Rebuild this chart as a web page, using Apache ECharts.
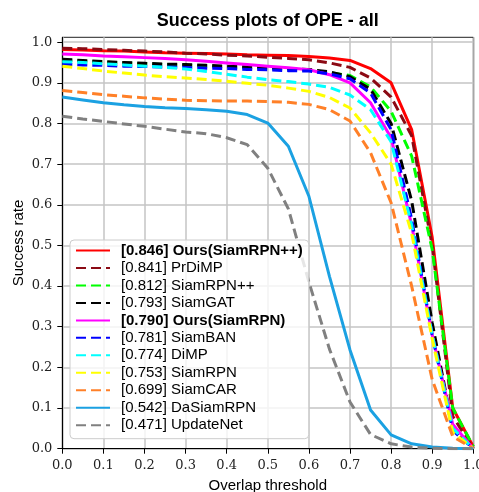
<!DOCTYPE html>
<html><head><meta charset="utf-8">
<script src="https://cdn.jsdelivr.net/npm/echarts@6/dist/echarts.min.js"></script>
<style>html,body{margin:0;padding:0;background:#fff}#c{width:479px;height:492px}</style>
</head><body><div id="c"></div>
<script>
// Overlap thresholds (x)
const thresholds = [0.00,0.05,0.10,0.15,0.20,0.25,0.30,0.35,0.40,0.45,0.50,0.55,0.60,0.65,0.70,0.75,0.80,0.85,0.90,0.95,1.00];

// Success rates per tracker
const oursSiamRPNpp = [0.982,0.981,0.979,0.978,0.976,0.974,0.973,0.972,0.971,0.969,0.968,0.967,0.965,0.961,0.955,0.935,0.900,0.785,0.520,0.100,0.005];
const prDiMP        = [0.985,0.984,0.982,0.980,0.978,0.976,0.973,0.971,0.968,0.966,0.963,0.960,0.957,0.949,0.938,0.912,0.865,0.770,0.500,0.080,0.000];
const siamRPNpp     = [0.955,0.953,0.951,0.949,0.947,0.945,0.943,0.941,0.939,0.937,0.935,0.933,0.931,0.925,0.918,0.890,0.830,0.720,0.490,0.100,0.005];
const siamGAT       = [0.958,0.955,0.952,0.950,0.948,0.946,0.945,0.943,0.941,0.939,0.937,0.935,0.933,0.927,0.915,0.884,0.800,0.610,0.310,0.050,0.000];
const oursSiamRPN   = [0.971,0.969,0.966,0.964,0.962,0.960,0.957,0.953,0.949,0.945,0.941,0.937,0.932,0.920,0.900,0.851,0.765,0.550,0.280,0.060,0.000];
const siamBAN       = [0.946,0.944,0.943,0.941,0.940,0.939,0.938,0.936,0.935,0.933,0.932,0.930,0.929,0.922,0.910,0.875,0.785,0.565,0.280,0.045,0.000];
const diMP          = [0.952,0.950,0.947,0.944,0.941,0.938,0.934,0.928,0.921,0.914,0.908,0.903,0.897,0.889,0.870,0.834,0.755,0.550,0.280,0.050,0.000];
const siamRPN       = [0.941,0.935,0.929,0.924,0.919,0.915,0.912,0.908,0.904,0.899,0.894,0.887,0.879,0.864,0.838,0.777,0.700,0.530,0.270,0.040,0.000];
const siamCAR       = [0.881,0.876,0.871,0.867,0.863,0.860,0.857,0.856,0.855,0.855,0.854,0.852,0.847,0.834,0.806,0.728,0.605,0.400,0.170,0.030,0.000];
const daSiamRPN     = [0.865,0.858,0.851,0.846,0.842,0.839,0.837,0.834,0.830,0.822,0.801,0.744,0.621,0.424,0.243,0.095,0.034,0.012,0.004,0.001,0.000];
const updateNet     = [0.818,0.811,0.805,0.799,0.793,0.786,0.779,0.775,0.765,0.748,0.690,0.590,0.410,0.245,0.115,0.035,0.012,0.004,0.001,0.000,0.000];

// Legend labels
const legendNames = [
  '[0.846] Ours(SiamRPN++)','[0.841] PrDiMP','[0.812] SiamRPN++','[0.793] SiamGAT',
  '[0.790] Ours(SiamRPN)','[0.781] SiamBAN','[0.774] DiMP','[0.753] SiamRPN',
  '[0.699] SiamCAR','[0.542] DaSiamRPN','[0.471] UpdateNet'
];
const boldNames = ['[0.846] Ours(SiamRPN++)','[0.790] Ours(SiamRPN)'];

// Tick labels
const xTickLabels = ['0.0','0.1','0.2','0.3','0.4','0.5','0.6','0.7','0.8','0.9','1.0'];
const yTickLabels = ['0.0','0.1','0.2','0.3','0.4','0.5','0.6','0.7','0.8','0.9','1.0'];
const tickValues  = [0,0.1,0.2,0.3,0.4,0.5,0.6,0.7,0.8,0.9,1.0];

const seriesValues = [oursSiamRPNpp,prDiMP,siamRPNpp,siamGAT,oursSiamRPN,siamBAN,diMP,siamRPN,siamCAR,daSiamRPN,updateNet];
const colors = ['#ff0000','#8b0a14','#00ff00','#000000','#ff00ff','#0000ff','#00ffff','#ffff00','#ff8028','#1ba1e2','#808080'];
const dashed = [false,true,true,true,false,true,true,true,true,false,true];

const chart = echarts.init(document.getElementById('c'), null, {renderer:'canvas'});
const sansFont = 'Liberation Sans';
const serifFont = 'DejaVu Serif';

const series = legendNames.map((n, i) => ({
  name: n,
  type: 'line',
  data: thresholds.map((t, j) => [t, seriesValues[i][j]]),
  symbol: 'none',
  lineStyle: { color: colors[i], width: 3, type: dashed[i] ? [10, 5] : 'solid' },
  itemStyle: { color: colors[i] },
  animation: false
}));

chart.setOption({
  animation: false,
  backgroundColor: '#ffffff',
  graphic: [{
    type: 'text',
    style: { text: 'Success plots of OPE - all', x: 267.8, y: 21, align: 'center', verticalAlign: 'middle',
             font: 'bold 18px Liberation Sans', fill: '#000' }
  }],
  grid: { left: 62.3, right: 5.7, top: 37.3, bottom: 43.3, outerBoundsMode: 'none', containLabel: false,
          show: true, borderColor: '#222', borderWidth: 1, backgroundColor: 'transparent' },
  xAxis: {
    type: 'value', min: 0, max: 1, interval: 0.1,
    name: 'Overlap threshold', nameLocation: 'middle', nameGap: 30,
    nameTextStyle: { fontFamily: sansFont, fontSize: 15, color: '#000' },
    axisLine: { show: true, lineStyle: { color: '#000', width: 1 } },
    axisTick: { show: true, inside: false, length: 5, lineStyle: { color: '#000' } },
    axisLabel: { margin: 10, fontFamily: serifFont, fontSize: 13, color: '#222',
      formatter: v => xTickLabels[Math.round(v * 10)] },
    splitLine: { show: true, lineStyle: { color: '#c4c4c4', width: 1.5 } }
  },
  yAxis: {
    type: 'value', min: 0, max: 1.012, interval: 0.1,
    name: 'Success rate', nameLocation: 'middle', nameGap: 36, nameRotate: 90, nameMoveOverlap: false,
    nameTextStyle: { fontFamily: sansFont, fontSize: 15, color: '#000' },
    axisLine: { show: true, lineStyle: { color: '#000', width: 1 } },
    axisTick: { show: true, inside: false, length: 5, lineStyle: { color: '#000' }, customValues: tickValues },
    axisLabel: { margin: 10, fontFamily: serifFont, fontSize: 13, color: '#222', customValues: tickValues,
      formatter: v => { const k = Math.round(v * 10); return Math.abs(v - k / 10) < 1e-6 ? yTickLabels[k] : ''; } },
    splitLine: { show: true, lineStyle: { color: '#c4c4c4', width: 1.5 } }
  },
  legend: {
    orient: 'vertical', left: 70, top: 240,
    padding: [3, 6, 6, 5],
    itemWidth: 34, itemHeight: 15, itemGap: 2.47,
    backgroundColor: 'rgba(255,255,255,0.8)', borderColor: '#cccccc', borderWidth: 1, borderRadius: 4,
    itemStyle: { color: 'rgba(0,0,0,0)', borderColor: 'rgba(0,0,0,0)', borderWidth: 0 },
    data: legendNames,
    textStyle: {
      fontFamily: sansFont, fontSize: 15, color: '#000',
      rich: {
        b: { fontFamily: sansFont, fontSize: 15, lineHeight: 15, fontWeight: 'bold', color: '#000', padding: [0, 0, 0, 6] },
        n: { fontFamily: sansFont, fontSize: 15, lineHeight: 15, color: '#000', padding: [0, 0, 0, 6] }
      }
    },
    formatter: name => (boldNames.includes(name) ? '{b|' + name + '}' : '{n|' + name + '}')
  },
  series: series
});
</script>
</body></html>
